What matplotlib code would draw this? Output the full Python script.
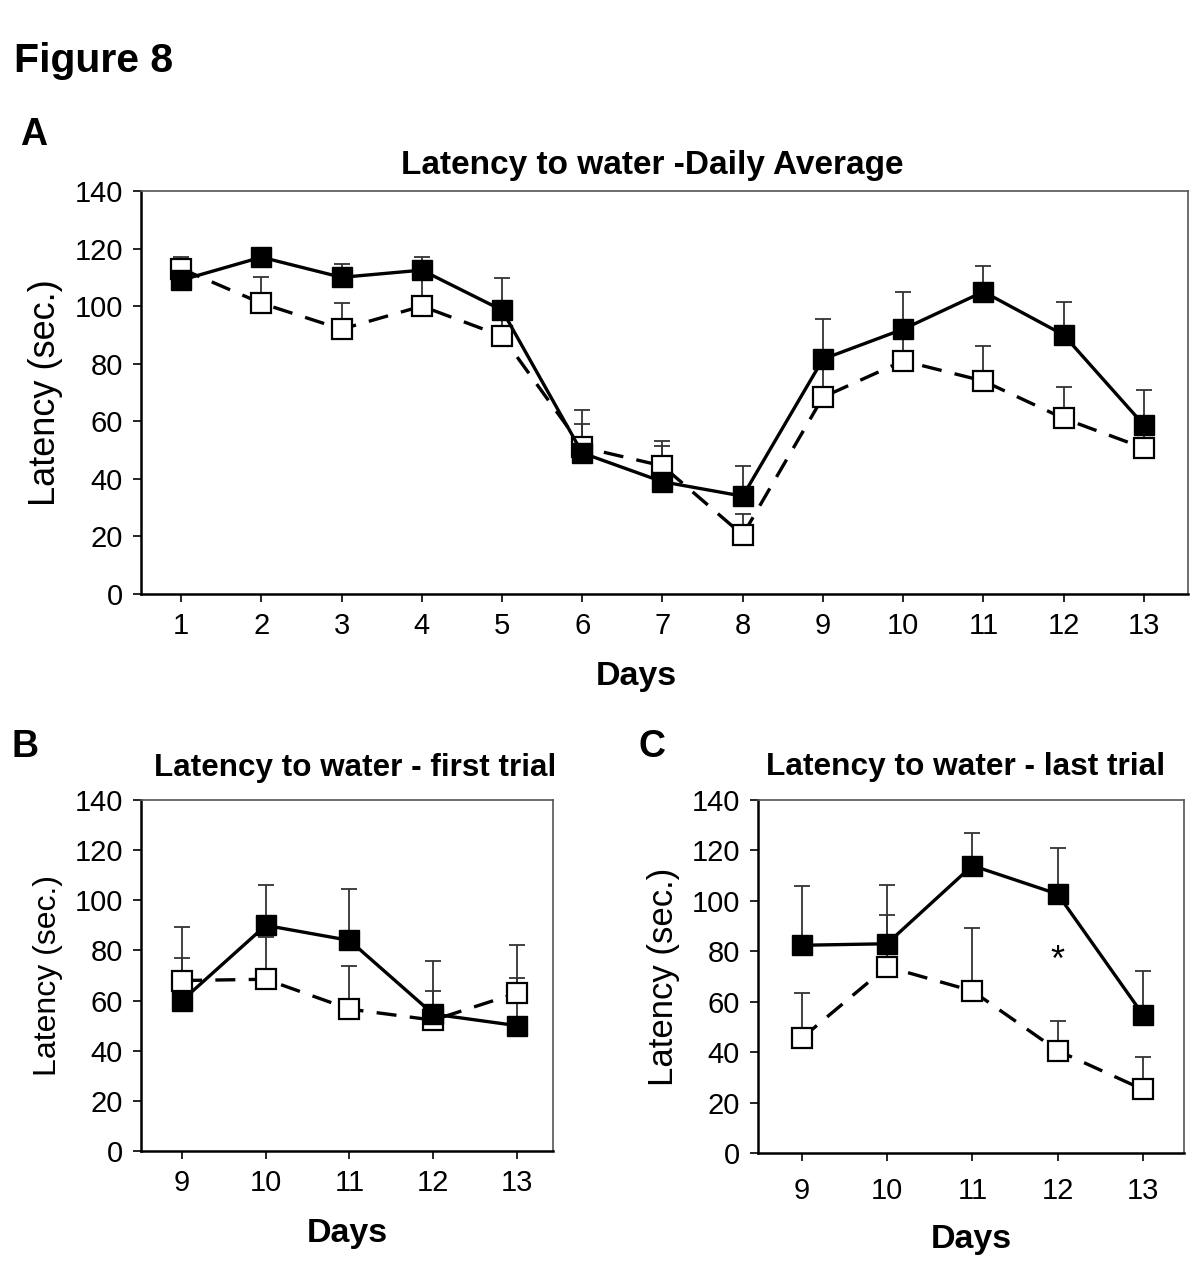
import matplotlib
matplotlib.use('Agg')
import matplotlib.pyplot as plt
import numpy as np

plt.rcParams['font.family'] = ['Liberation Sans', 'DejaVu Sans']

# panel A - daily average
days_a = list(range(1, 14))
filled_a = [109, 117, 110, 112.5, 98.6, 49, 39, 34, 81.6, 92, 105, 90, 58.7]
filled_a_err = [3, 2, 4.6, 4.5, 11, 15, 14, 10.6, 14, 13, 9, 11.4, 12.3]
open_a = [113, 101, 92, 100, 89.6, 51, 44.5, 20.5, 68.4, 81, 74, 61, 50.7]
open_a_err = [4, 9, 9, 10, 6, 8, 7, 7.4, 12, 10, 12, 11, 8]

# panel B - first trial
days_b = [9, 10, 11, 12, 13]
filled_b = [60, 90, 84, 54.6, 50]
filled_b_err = [17, 16, 20.6, 21, 19]
open_b = [68, 68.5, 56.6, 52.2, 63]
open_b_err = [21.5, 17, 17.2, 11.6, 19]

# panel C - last trial
days_c = [9, 10, 11, 12, 13]
filled_c = [82.4, 83, 114, 102.7, 54.8]
filled_c_err = [23.6, 23.2, 13, 18.1, 17.2]
open_c = [45.5, 73.9, 64.3, 40.6, 25.2]
open_c_err = [18.1, 20.6, 25, 11.7, 12.7]

yticks = [0, 20, 40, 60, 80, 100, 120, 140]


def draw_panel(ax, days, filled, filled_err, opn, opn_err, xlim,
               ylab_size=22, xlab_pad=16, tick_pad=7):
    n = len(days)
    ax.errorbar(days, filled, yerr=[np.zeros(n), filled_err], fmt='none',
                ecolor='#333333', elinewidth=1.3, capsize=6, capthick=1.3, zorder=2)
    ax.errorbar(days, opn, yerr=[np.zeros(n), opn_err], fmt='none',
                ecolor='#333333', elinewidth=1.3, capsize=6, capthick=1.3, zorder=2)
    ax.plot(days, opn, color='black', lw=2.4, dashes=(6, 4),
            marker='s', ms=14, mfc='white', mec='black', mew=1.6, zorder=3)
    ax.plot(days, filled, color='black', lw=2.4,
            marker='s', ms=14.5, mfc='black', mec='black', zorder=4)
    ax.set_xlim(*xlim)
    ax.set_ylim(0, 140)
    ax.set_xticks(days)
    ax.set_yticks(yticks)
    ax.tick_params(direction='out', length=6, width=1.2, labelsize=21, pad=7)
    ax.tick_params(axis='x', pad=tick_pad)
    for s in ['left', 'bottom']:
        ax.spines[s].set_linewidth(1.8)
    for s in ['top', 'right']:
        ax.spines[s].set_linewidth(1.2)
        ax.spines[s].set_color('#555555')
    ax.set_xlabel('Days', fontsize=24.5, fontweight='bold', labelpad=xlab_pad)
    ax.set_ylabel('Latency (sec.)', fontsize=ylab_size, labelpad=8)


fig = plt.figure(figsize=(12, 12.85), dpi=100)

ax_a = fig.add_axes([0.1175, 0.5377, 0.8725, 0.3137])
draw_panel(ax_a, days_a, filled_a, filled_a_err, open_a, open_a_err, (0.5, 13.55),
           ylab_size=26, xlab_pad=14)
# "Days" sits a bit left of centre in panel A
ax_a.xaxis.set_label_coords(0.473, -0.165)

ax_b = fig.add_axes([0.1175, 0.1043, 0.3433, 0.2731])
draw_panel(ax_b, days_b, filled_b, filled_b_err, open_b, open_b_err, (8.51, 13.43),
           ylab_size=23, xlab_pad=15)

ax_c = fig.add_axes([0.6317, 0.1027, 0.355, 0.2747])
draw_panel(ax_c, days_c, filled_c, filled_c_err, open_c, open_c_err, (8.49, 13.48),
           ylab_size=25, xlab_pad=14, tick_pad=11)
ax_c.text(12, 76, '*', fontsize=26, ha='center', va='center')

fig.text(14 / 1200, 1 - 72 / 1285, 'Figure 8', fontsize=29.5, fontweight='bold', va='baseline')
fig.text(20 / 1200, 1 - 145 / 1285, 'A', fontsize=27, fontweight='bold', va='baseline')
fig.text(12 / 1200, 1 - 757 / 1285, 'B', fontsize=27, fontweight='bold', va='baseline')
fig.text(638 / 1200, 1 - 757 / 1285, 'C', fontsize=27, fontweight='bold', va='baseline')

fig.text(652 / 1200, 1 - 174 / 1285, 'Latency to water -Daily Average',
         fontsize=24, fontweight='bold', ha='center', va='baseline')
fig.text(355 / 1200, 1 - 776 / 1285, 'Latency to water - first trial',
         fontsize=22.6, fontweight='bold', ha='center', va='baseline')
fig.text(966 / 1200, 1 - 775 / 1285, 'Latency to water - last trial',
         fontsize=22.8, fontweight='bold', ha='center', va='baseline')

fig.savefig('out.png', dpi=100)
